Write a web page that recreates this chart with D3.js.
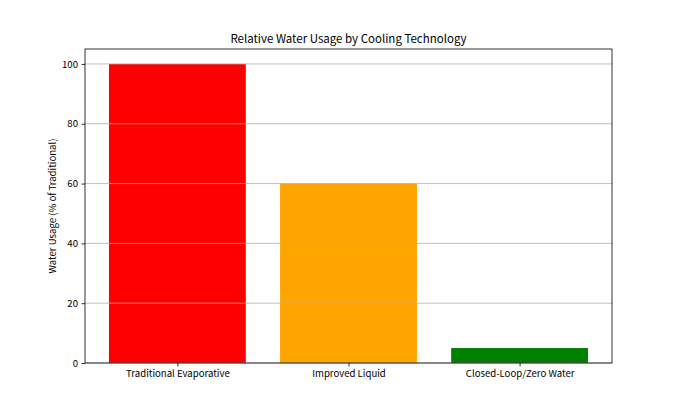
<!DOCTYPE html>
<html>
<head>
<script src="https://d3js.org/d3.v7.min.js"></script>
<style>
  body { margin: 0; background: #fff; }
  svg { font-family: "Noto Sans CJK SC", "Noto Sans", sans-serif; }
</style>
</head>
<body>
<svg id="chart" width="680" height="408"></svg>
<script>
const categories = ['Traditional Evaporative', 'Improved Liquid', 'Closed-Loop/Zero Water'];
const usage = [100, 60, 5];
const barColors = ['#ff0000', '#ffa500', '#008000'];
const yTicks = [0, 20, 40, 60, 80, 100];

const svg = d3.select('#chart');
const mLeft = 85, mRight = 612, mTop = 49, mBottom = 363;

// matplotlib-like x limits: bars at 0..n-1, width 0.8, 5% margins
const n = categories.length;
const lo = -0.4, hi = n - 1 + 0.4, pad = (hi - lo) * 0.05;
const x = d3.scaleLinear().domain([lo - pad, hi + pad]).range([mLeft, mRight]);
const y = d3.scaleLinear().domain([0, 105]).range([mBottom, mTop]);

// bars
svg.selectAll('rect.bar')
  .data(usage)
  .enter()
  .append('rect')
  .attr('class', 'bar')
  .attr('x', (d, i) => x(i - 0.4))
  .attr('width', (d, i) => x(i + 0.4) - x(i - 0.4))
  .attr('y', d => y(d))
  .attr('height', d => y(0) - y(d))
  .attr('fill', (d, i) => barColors[i]);

// grid on top of bars
svg.selectAll('line.grid')
  .data(yTicks)
  .enter()
  .append('line')
  .attr('x1', mLeft).attr('x2', mRight)
  .attr('y1', d => y(d)).attr('y2', d => y(d))
  .attr('stroke', '#b0b0b0')
  .attr('stroke-opacity', 0.8)
  .attr('stroke-width', 1);

// y axis
const yAxis = svg.append('g')
  .attr('transform', `translate(${mLeft},0)`)
  .call(d3.axisLeft(y).tickValues(yTicks).tickSize(3.5).tickPadding(3.5));
yAxis.select('.domain').remove();

// x axis
const xAxis = svg.append('g')
  .attr('transform', `translate(0,${mBottom})`)
  .call(d3.axisBottom(x).tickValues(d3.range(n)).tickFormat(i => categories[i]).tickSize(3.5).tickPadding(3.5));
xAxis.select('.domain').remove();

svg.selectAll('.tick text').attr('font-size', 9.6).attr('fill', '#000')
  .attr('font-family', '"Noto Sans CJK SC", "Noto Sans", sans-serif');
svg.selectAll('.tick line').attr('stroke', '#000').attr('stroke-width', 0.8);

// frame
svg.append('rect')
  .attr('x', mLeft).attr('y', mTop)
  .attr('width', mRight - mLeft).attr('height', mBottom - mTop)
  .attr('fill', 'none').attr('stroke', '#000').attr('stroke-width', 0.8);

// title
svg.append('text')
  .attr('x', (mLeft + mRight) / 2).attr('y', mTop - 6)
  .attr('text-anchor', 'middle')
  .attr('font-size', 11.5)
  .text('Relative Water Usage by Cooling Technology');

// y label
svg.append('text')
  .attr('transform', `translate(${mLeft - 29},${(mTop + mBottom) / 2}) rotate(-90)`)
  .attr('text-anchor', 'middle')
  .attr('font-size', 9.6)
  .text('Water Usage (% of Traditional)');
</script>
</body>
</html>
